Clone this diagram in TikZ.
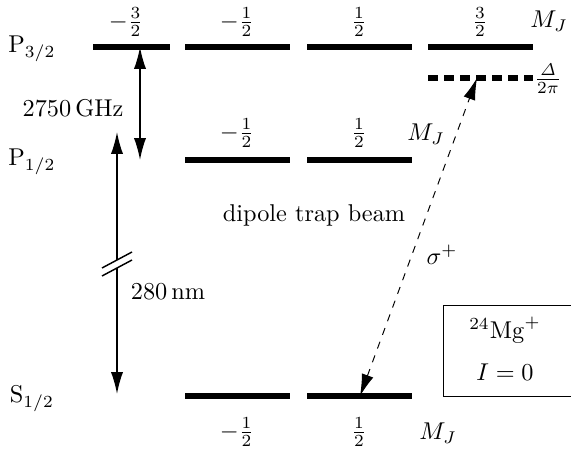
\documentclass[tikz,border=0pt]{standalone}
\usepackage{amsmath,amssymb}
\usepackage{xcolor}
\usetikzlibrary{arrows.meta,positioning}

\begin{document}
\begin{tikzpicture}[
  x=0.4116pt, y=-0.4116pt,
  level/.style={line width=2.1pt},
  shifted/.style={line width=2.1pt,dash pattern=on 4pt off 2.6pt},
  arr/.style={{Latex[length=9pt,width=5pt]}-{Latex[length=9pt,width=5pt]},semithick},
  beam/.style={{Latex[length=9pt,width=5pt]}-{Latex[length=9pt,width=5pt]},dashed},
  lbl/.style={inner sep=1pt},
  mj/.style={inner sep=1pt}
]
\useasboundingbox (0,0) rectangle (571,452);
% levels
\coordinate (p3a) at (93,47);  \coordinate (p3b) at (170,47);
\coordinate (p3c) at (185,47); \coordinate (p3d) at (290,47);
\coordinate (p3e) at (307,47); \coordinate (p3f) at (412,47);
\coordinate (p3g) at (428,47); \coordinate (p3h) at (533,47);
\coordinate (dla) at (428,78); \coordinate (dlb) at (533,78);
\coordinate (p1a) at (185,160); \coordinate (p1b) at (290,160);
\coordinate (p1c) at (307,160); \coordinate (p1d) at (412,160);
\coordinate (s1a) at (185,396); \coordinate (s1b) at (290,396);
\coordinate (s1c) at (307,396); \coordinate (s1d) at (412,396);
\draw[level] (p3a) -- (p3b);
\draw[level] (p3c) -- (p3d);
\draw[level] (p3e) -- (p3f);
\draw[level] (p3g) -- (p3h);
\draw[shifted] (dla) -- (dlb);
\draw[level] (p1a) -- (p1b);
\draw[level] (p1c) -- (p1d);
\draw[level] (s1a) -- (s1b);
\draw[level] (s1c) -- (s1d);
% term labels
\node[lbl] (tp3) at (32,49) {$\mathrm{P}_{3/2}$};
\node[lbl] (tp1) at (32,162) {$\mathrm{P}_{1/2}$};
\node[lbl] (ts1) at (32,399) {$\mathrm{S}_{1/2}$};
% magnetic sublevels
\node[mj] (m1) at (126,22) {$-\frac{3}{2}$};
\node[mj] (m2) at (237,22) {$-\frac{1}{2}$};
\node[mj] (m3) at (359,22) {$\frac{1}{2}$};
\node[mj] (m4) at (480,22) {$\frac{3}{2}$};
\node[mj] (mja) at (549,21) {$M_J$};
\node[mj] (m5) at (237,133) {$-\frac{1}{2}$};
\node[mj] (m6) at (359,133) {$\frac{1}{2}$};
\node[mj] (mjb) at (426,134) {$M_J$};
\node[mj] (m7) at (237,432) {$-\frac{1}{2}$};
\node[mj] (m8) at (359,432) {$\frac{1}{2}$};
\node[mj] (mjc) at (438,433) {$M_J$};
\node[mj] (det) at (548,79) {$\frac{\mathit{\Delta}}{2\pi}$};
% fine structure splitting
\coordinate (fa) at (140,47);
\coordinate (fb) at (140,160);
\draw[arr] (fa) -- (fb);
\node[lbl] (fs) at (73,108) {$2750\,\mathrm{GHz}$};
% optical transition with axis break
\coordinate (oa) at (117,132);
\coordinate (ob) at (117,394);
\draw[arr] (oa) -- (ob);
\fill[white] (102,268) -- (132,252) -- (132,260) -- (102,276) -- cycle;
\draw[semithick] (102,268) -- (132,252);
\draw[semithick] (102,276) -- (132,260);
\node[lbl] (wl) at (168,292) {$280\,\mathrm{nm}$};
% dipole trap beam
\coordinate (ba) at (360,396);
\coordinate (bb) at (477,78);
\draw[beam] (ba) -- (bb);
\node[lbl] (bl) at (314,215) {dipole trap beam};
\node[lbl] (sg) at (442,255) {$\sigma^+$};
% isotope box
\draw (443,305) rectangle (575,396);
\node[lbl] (mg) at (505,330) {${}^{24}\mathrm{Mg}^+$};
\node[lbl] (ii) at (505,372) {$I=0$};
\end{tikzpicture}
\end{document}
